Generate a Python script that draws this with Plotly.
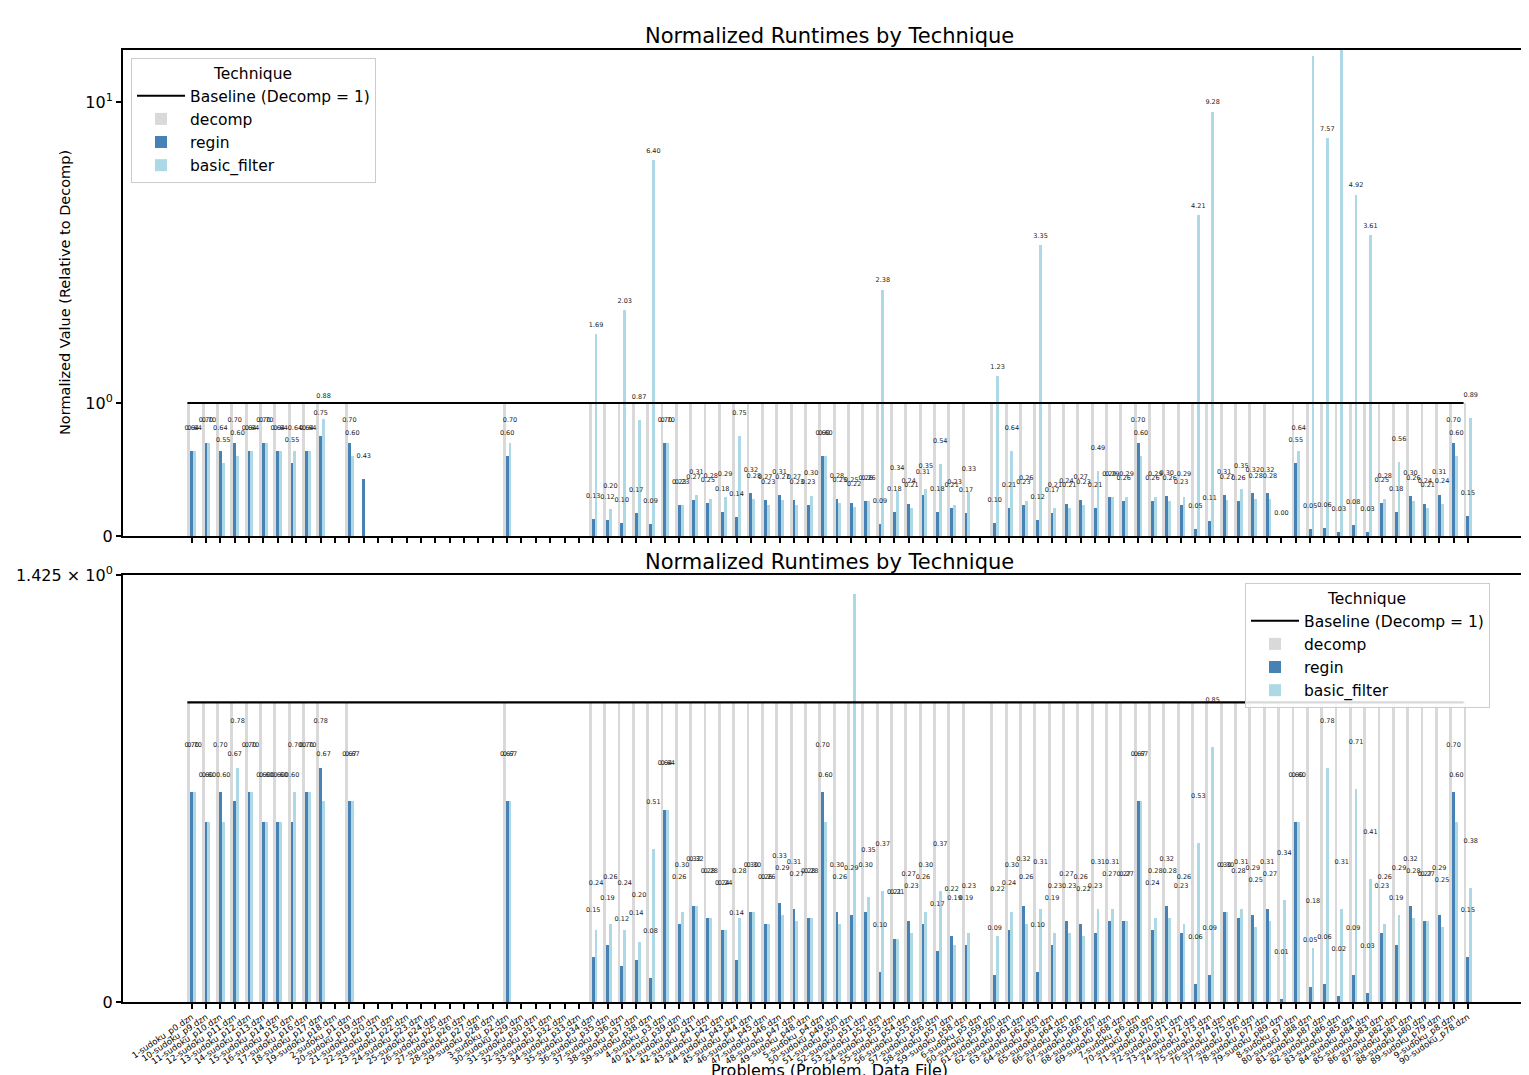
import math
import plotly.graph_objects as go

N = None

categories = [
    "1-sudoku_p0.dzn", "10-sudoku_p9.dzn", "11-sudoku_p10.dzn", "12-sudoku_p11.dzn", "13-sudoku_p12.dzn",
    "14-sudoku_p13.dzn", "15-sudoku_p14.dzn", "16-sudoku_p15.dzn", "17-sudoku_p16.dzn", "18-sudoku_p17.dzn",
    "19-sudoku_p18.dzn", "2-sudoku_p1.dzn", "20-sudoku_p19.dzn", "21-sudoku_p20.dzn", "22-sudoku_p21.dzn",
    "23-sudoku_p22.dzn", "24-sudoku_p23.dzn", "25-sudoku_p24.dzn", "26-sudoku_p25.dzn", "27-sudoku_p26.dzn",
    "28-sudoku_p27.dzn", "29-sudoku_p28.dzn", "3-sudoku_p2.dzn", "30-sudoku_p29.dzn", "31-sudoku_p30.dzn",
    "32-sudoku_p31.dzn", "33-sudoku_p32.dzn", "34-sudoku_p33.dzn", "35-sudoku_p34.dzn", "36-sudoku_p35.dzn",
    "37-sudoku_p36.dzn", "38-sudoku_p37.dzn", "39-sudoku_p38.dzn", "4-sudoku_p3.dzn", "40-sudoku_p39.dzn",
    "41-sudoku_p40.dzn", "42-sudoku_p41.dzn", "43-sudoku_p42.dzn", "44-sudoku_p43.dzn", "45-sudoku_p44.dzn",
    "46-sudoku_p45.dzn", "47-sudoku_p46.dzn", "48-sudoku_p47.dzn", "49-sudoku_p48.dzn", "5-sudoku_p4.dzn",
    "50-sudoku_p49.dzn", "51-sudoku_p50.dzn", "52-sudoku_p51.dzn", "53-sudoku_p52.dzn", "54-sudoku_p53.dzn",
    "55-sudoku_p54.dzn", "56-sudoku_p55.dzn", "57-sudoku_p56.dzn", "58-sudoku_p57.dzn", "59-sudoku_p58.dzn",
    "6-sudoku_p5.dzn", "60-sudoku_p59.dzn", "61-sudoku_p60.dzn", "62-sudoku_p61.dzn", "63-sudoku_p62.dzn",
    "64-sudoku_p63.dzn", "65-sudoku_p64.dzn", "66-sudoku_p65.dzn", "67-sudoku_p66.dzn", "68-sudoku_p67.dzn",
    "69-sudoku_p68.dzn", "7-sudoku_p6.dzn", "70-sudoku_p69.dzn", "71-sudoku_p70.dzn", "72-sudoku_p71.dzn",
    "73-sudoku_p72.dzn", "74-sudoku_p73.dzn", "75-sudoku_p74.dzn", "76-sudoku_p75.dzn", "77-sudoku_p76.dzn",
    "78-sudoku_p77.dzn", "79-sudoku_p89.dzn", "8-sudoku_p7.dzn", "80-sudoku_p88.dzn", "81-sudoku_p87.dzn",
    "82-sudoku_p86.dzn", "83-sudoku_p85.dzn", "84-sudoku_p84.dzn", "85-sudoku_p83.dzn", "86-sudoku_p82.dzn",
    "87-sudoku_p81.dzn", "88-sudoku_p80.dzn", "89-sudoku_p79.dzn", "9-sudoku_p8.dzn", "90-sudoku_p78.dzn",
]

# ---- top panel (symlog scale) ----
decomp_top = [
    1, 1, 1, 1, 1, 1, 1, 1, 1, 1,
    N, 1, N, N, N, N, N, N, N, N,
    N, N, 1, N, N, N, N, N, 1, 1,
    1, 1, 1, 1, 1, 1, 1, 1, 1, 1,
    1, 1, 1, 1, 1, 1, 1, 1, 1, 1,
    1, 1, 1, 1, 1, N, 1, 1, 1, 1,
    1, 1, 1, 1, 1, 1, 1, 1, 1, 1,
    1, 1, 1, 1, 1, 1, N, 1, 1, 1,
    1, 1, 1, 1, 1, 1, 1, 1, 1, 1,
]
regin_top = [
    0.64, 0.70, 0.64, 0.70, 0.64, 0.70, 0.64, 0.55, 0.64, 0.75,
    N, 0.70, 0.43, N, N, N, N, N, N, N,
    N, N, 0.60, N, N, N, N, N, 0.13, 0.12,
    0.10, 0.17, 0.09, 0.70, 0.23, 0.27, 0.25, 0.18, 0.14, 0.32,
    0.27, 0.31, 0.27, 0.23, 0.60, 0.28, 0.25, 0.26, 0.09, 0.18,
    0.24, 0.31, 0.18, 0.21, 0.17, N, 0.10, 0.21, 0.23, 0.12,
    0.17, 0.24, 0.27, 0.21, 0.29, 0.26, 0.70, 0.26, 0.30, 0.23,
    0.05, 0.11, 0.31, 0.26, 0.32, 0.32, 0.00, 0.55, 0.05, 0.06,
    0.03, 0.08, 0.03, 0.25, 0.18, 0.30, 0.24, 0.31, 0.70, 0.15,
]
basic_top = [
    0.64, 0.70, 0.55, 0.60, 0.64, 0.70, 0.64, 0.64, 0.64, 0.88,
    N, 0.60, N, N, N, N, N, N, N, N,
    N, N, 0.70, N, N, N, N, N, 1.69, 0.20,
    2.03, 0.87, 6.40, 0.70, 0.23, 0.31, 0.28, 0.29, 0.75, 0.28,
    0.23, 0.27, 0.23, 0.30, 0.60, 0.25, 0.22, 0.26, 2.38, 0.34,
    0.21, 0.35, 0.54, 0.23, 0.33, N, 1.23, 0.64, 0.26, 3.35,
    0.21, 0.21, 0.23, 0.49, 0.29, 0.29, 0.60, 0.29, 0.26, 0.29,
    4.21, 9.28, 0.27, 0.35, 0.28, 0.28, N, 0.64, 14.25, 7.57,
    15.71, 4.92, 3.61, 0.28, 0.56, 0.26, 0.21, 0.24, 0.60, 0.89,
]

# ---- bottom panel (linear scale) ----
decomp_bot = [
    1, 1, 1, 1, 1, 1, 1, 1, 1, 1,
    N, 1, N, N, N, N, N, N, N, N,
    N, N, 1, N, N, N, N, N, 1, 1,
    1, 1, 1, 1, 1, 1, 1, 1, 1, 1,
    1, 1, 1, 1, 1, 1, 1, 1, 1, 1,
    1, 1, 1, 1, 1, N, 1, 1, 1, 1,
    1, 1, 1, 1, 1, 1, 1, 1, 1, 1,
    1, 1, 1, 1, 1, 1, 1, 1, 1, 1,
    1, 1, 1, 1, 1, 1, 1, 1, 1, 1,
]
regin_bot = [
    0.70, 0.60, 0.70, 0.67, 0.70, 0.60, 0.60, 0.60, 0.70, 0.78,
    N, 0.67, N, N, N, N, N, N, N, N,
    N, N, 0.67, N, N, N, N, N, 0.15, 0.19,
    0.12, 0.14, 0.08, 0.64, 0.26, 0.32, 0.28, 0.24, 0.14, 0.30,
    0.26, 0.33, 0.31, 0.28, 0.70, 0.30, 0.29, 0.30, 0.10, 0.21,
    0.27, 0.26, 0.17, 0.22, 0.19, N, 0.09, 0.24, 0.32, 0.10,
    0.19, 0.27, 0.26, 0.23, 0.27, 0.27, 0.67, 0.24, 0.32, 0.23,
    0.06, 0.09, 0.30, 0.28, 0.29, 0.31, 0.01, 0.60, 0.05, 0.06,
    0.02, 0.09, 0.03, 0.23, 0.19, 0.32, 0.27, 0.29, 0.70, 0.15,
]
basic_bot = [
    0.70, 0.60, 0.60, 0.78, 0.70, 0.60, 0.60, 0.70, 0.70, 0.67,
    N, 0.67, N, N, N, N, N, N, N, N,
    N, N, 0.67, N, N, N, N, N, 0.24, 0.26,
    0.24, 0.20, 0.51, 0.64, 0.30, 0.32, 0.28, 0.24, 0.28, 0.30,
    0.26, 0.29, 0.27, 0.28, 0.60, 0.26, 1.36, 0.35, 0.37, 0.21,
    0.23, 0.30, 0.37, 0.19, 0.23, N, 0.22, 0.30, 0.26, 0.31,
    0.23, 0.23, 0.22, 0.31, 0.31, 0.27, 0.67, 0.28, 0.28, 0.26,
    0.53, 0.85, 0.30, 0.31, 0.25, 0.27, 0.34, 0.60, 0.18, 0.78,
    0.31, 0.71, 0.41, 0.26, 0.29, 0.28, 0.27, 0.25, 0.60, 0.38,
]

BASELINE = 1.0
COL_DECOMP = "#d9d9d9"
COL_REGIN = "#4682b4"
COL_BASIC = "#add8e6"
FONT = "DejaVu Sans"
W = 0.2

LIN = 0.4419  # symlog: linear part [0,1] length relative to one decade


def symlog(v):
    if v is None:
        return None
    return v * LIN if v <= 1 else LIN + math.log10(v)


idx = list(range(len(categories)))
W_FIG, H_FIG = 1529, 1075
PAGE_OFF = 8  # default page body margin around the figure


def px_x(p):
    return (p - PAGE_OFF) / W_FIG


def px_y(p):
    return 1 - (p - PAGE_OFF) / H_FIG


fig = go.Figure()


def add_panel(decomp, regin, basic, xa, ya, legend, tf, label_off):
    ax = "x" if xa == 1 else f"x{xa}"
    ay = "y" if ya == 1 else f"y{ya}"
    fig.add_trace(go.Bar(x=[i - W for i in idx], y=[tf(v) for v in decomp], width=W,
                         marker=dict(color=COL_DECOMP, line_width=0), name="decomp",
                         xaxis=ax, yaxis=ay, legend=legend, legendrank=2))
    fig.add_trace(go.Bar(x=idx, y=[tf(v) for v in regin], width=W,
                         marker=dict(color=COL_REGIN, line_width=0), name="regin",
                         xaxis=ax, yaxis=ay, legend=legend, legendrank=3))
    fig.add_trace(go.Bar(x=[i + W for i in idx], y=[tf(v) for v in basic], width=W,
                         marker=dict(color=COL_BASIC, line_width=0), name="basic_filter",
                         xaxis=ax, yaxis=ay, legend=legend, legendrank=4))
    fig.add_trace(go.Scatter(x=[idx[0] - 1.5 * W, idx[-1] - 1.5 * W], y=[tf(BASELINE)] * 2,
                             mode="lines", line=dict(color="black", width=2.2),
                             name="Baseline (Decomp = 1)", xaxis=ax, yaxis=ay,
                             legend=legend, legendrank=1))
    # value labels
    lx, ly, lt = [], [], []
    for off, series in ((0.0, regin), (W, basic)):
        for i, v in zip(idx, series):
            if v is None:
                continue
            lx.append(i + off)
            ly.append(label_off(v))
            lt.append(f"{v:.2f}")
    fig.add_trace(go.Scatter(x=lx, y=ly, text=lt, mode="text", showlegend=False,
                             textfont=dict(size=6.5, color="#222222", family=FONT),
                             cliponaxis=False, xaxis=ax, yaxis=ay, hoverinfo="skip"))


add_panel(decomp_top, regin_top, basic_top, 1, 1, "legend", symlog,
          lambda v: symlog(v) + (0.075 if v <= 1 else 0.03))
add_panel(decomp_bot, regin_bot, basic_bot, 2, 2, "legend2", lambda v: v,
          lambda v: v + 0.155)

x_dom = [px_x(123), 1.0]
x_rng = [-4.79, 93.82]
axis_common = dict(showline=True, linecolor="black", linewidth=2, mirror=True,
                   showgrid=False, zeroline=False, ticks="outside", ticklen=5,
                   tickwidth=1.5, tickcolor="black", automargin=False)

legend_common = dict(xanchor="left", yanchor="top",
                     bgcolor="rgba(255,255,255,0.85)", bordercolor="#cccccc", borderwidth=1,
                     title=dict(text="Technique", side="top center", font=dict(size=15.5)),
                     font=dict(size=15.5), tracegroupgap=0, itemwidth=48)

fig.update_layout(
    width=W_FIG, height=H_FIG,
    margin=dict(l=0, r=0, t=0, b=0, autoexpand=False),
    paper_bgcolor="white", plot_bgcolor="white",
    barmode="overlay", bargap=0,
    font=dict(family=FONT, color="black"),
    xaxis=dict(domain=x_dom, range=x_rng, anchor="y", tickvals=idx,
               showticklabels=False, **axis_common),
    yaxis=dict(domain=[px_y(536), px_y(50)], range=[0, (536 - 50) / 301],
               anchor="x", tickvals=[0, symlog(1), symlog(10)],
               ticktext=["0", "10<sup>0</sup>", "10<sup>1</sup>"],
               tickfont=dict(size=16), **axis_common),
    xaxis2=dict(domain=x_dom, range=x_rng, anchor="y2", tickvals=idx, ticktext=categories,
                tickangle=-34, tickfont=dict(size=8.5), **axis_common),
    yaxis2=dict(domain=[px_y(1002), px_y(575)], range=[0, 1.425], anchor="x2",
                tickvals=[0, 1.425], ticktext=["0", "1.425 × 10<sup>0</sup>"],
                tickfont=dict(size=16), **axis_common),
    legend=dict(x=px_x(131), y=px_y(58), **legend_common),
    legend2=dict(x=px_x(1245), y=px_y(583), **legend_common),
    showlegend=True,
)

title = "Normalized Runtimes by Technique"
fig.add_annotation(text=title, x=px_x(829), y=px_y(36), xref="paper", yref="paper",
                   showarrow=False, font=dict(size=21), xanchor="center", yanchor="middle")
fig.add_annotation(text=title, x=px_x(829), y=px_y(562), xref="paper", yref="paper",
                   showarrow=False, font=dict(size=21), xanchor="center", yanchor="middle")
fig.add_annotation(text="Normalized Value (Relative to Decomp)", x=px_x(65), y=px_y(293),
                   xref="paper", yref="paper", showarrow=False, textangle=-90,
                   font=dict(size=14.5), xanchor="center", yanchor="middle")
fig.add_annotation(text="Problems (Problem, Data File)", x=px_x(829), y=px_y(1070),
                   xref="paper", yref="paper", showarrow=False, font=dict(size=16),
                   xanchor="center", yanchor="middle")

fig.write_html("out.html")
